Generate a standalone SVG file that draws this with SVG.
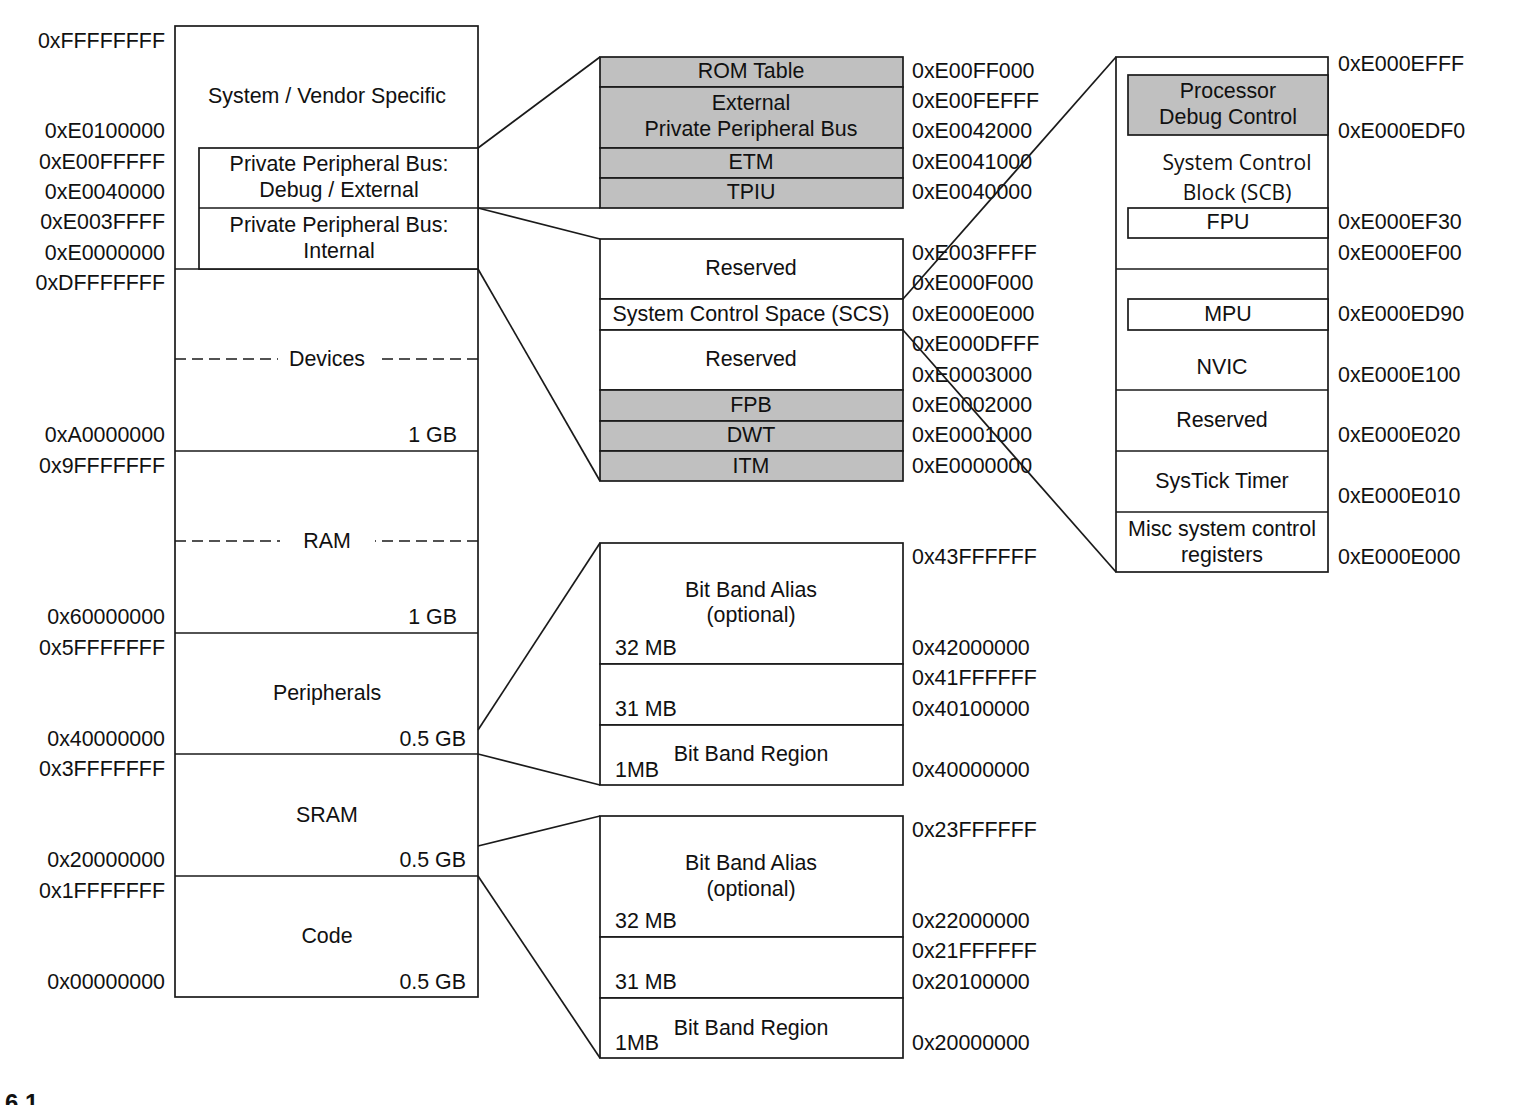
<svg xmlns="http://www.w3.org/2000/svg" width="1516" height="1105" viewBox="0 0 1516 1105">
<style>
text{font-family:"Liberation Sans",Arial,sans-serif;font-size:21.4px;fill:#111}
.c{text-anchor:middle}
.r{text-anchor:end}
.box{fill:#fff;stroke:#1a1a1a;stroke-width:1.7}
.g{fill:#c0c0c0;stroke:#1a1a1a;stroke-width:1.7}
.ln{stroke:#1a1a1a;stroke-width:1.7;fill:none}
.d{stroke:#1a1a1a;stroke-width:1.7;stroke-dasharray:11 6;fill:none}
.cal{font-family:"Open Sans","Noto Sans",sans-serif;font-size:21px}
</style>
<rect width="1516" height="1105" fill="#fff"/>

<g id="main-map">
<rect class="box" x="175" y="26" width="303" height="971"/>
<line class="ln" x1="175" y1="269" x2="478" y2="269"/>
<line class="ln" x1="175" y1="451" x2="478" y2="451"/>
<line class="ln" x1="175" y1="633" x2="478" y2="633"/>
<line class="ln" x1="175" y1="754" x2="478" y2="754"/>
<line class="ln" x1="175" y1="876" x2="478" y2="876"/>
<line class="d" x1="175" y1="359" x2="278" y2="359"/>
<line class="d" x1="478" y1="359" x2="376" y2="359"/>
<line class="d" x1="175" y1="541" x2="280" y2="541"/>
<line class="d" x1="478" y1="541" x2="375" y2="541"/>
<text class="c" x="327" y="103">System / Vendor Specific</text>
<text class="c" x="327" y="366">Devices</text>
<text class="r" x="457" y="442">1 GB</text>
<text class="c" x="327" y="548">RAM</text>
<text class="r" x="457" y="624">1 GB</text>
<text class="c" x="327" y="700">Peripherals</text>
<text class="r" x="466" y="746">0.5 GB</text>
<text class="c" x="327" y="822">SRAM</text>
<text class="r" x="466" y="867">0.5 GB</text>
<text class="c" x="327" y="943">Code</text>
<text class="r" x="466" y="989">0.5 GB</text>
</g>

<g id="ppb-boxes">
<rect class="box" x="199" y="148" width="279" height="121"/>
<line class="ln" x1="199" y1="208" x2="478" y2="208"/>
<text class="c" x="339" y="171">Private Peripheral Bus:</text>
<text class="c" x="339" y="197">Debug / External</text>
<text class="c" x="339" y="232">Private Peripheral Bus:</text>
<text class="c" x="339" y="258">Internal</text>
</g>

<g id="main-addresses">
<text class="r" x="165" y="48">0xFFFFFFFF</text>
<text class="r" x="165" y="138">0xE0100000</text>
<text class="r" x="165" y="169">0xE00FFFFF</text>
<text class="r" x="165" y="199">0xE0040000</text>
<text class="r" x="165" y="229">0xE003FFFF</text>
<text class="r" x="165" y="260">0xE0000000</text>
<text class="r" x="165" y="290">0xDFFFFFFF</text>
<text class="r" x="165" y="442">0xA0000000</text>
<text class="r" x="165" y="473">0x9FFFFFFF</text>
<text class="r" x="165" y="624">0x60000000</text>
<text class="r" x="165" y="655">0x5FFFFFFF</text>
<text class="r" x="165" y="746">0x40000000</text>
<text class="r" x="165" y="776">0x3FFFFFFF</text>
<text class="r" x="165" y="867">0x20000000</text>
<text class="r" x="165" y="898">0x1FFFFFFF</text>
<text class="r" x="165" y="989">0x00000000</text>
</g>

<g id="external-ppb">
<rect class="g" x="600" y="57" width="303" height="30"/>
<rect class="g" x="600" y="87" width="303" height="61"/>
<rect class="g" x="600" y="148" width="303" height="30"/>
<rect class="g" x="600" y="178" width="303" height="30"/>
<text class="c" x="751" y="78">ROM Table</text>
<text class="c" x="751" y="110">External</text>
<text class="c" x="751" y="136">Private Peripheral Bus</text>
<text class="c" x="751" y="169">ETM</text>
<text class="c" x="751" y="199">TPIU</text>
<text x="912" y="78">0xE00FF000</text>
<text x="912" y="108">0xE00FEFFF</text>
<text x="912" y="138">0xE0042000</text>
<text x="912" y="169">0xE0041000</text>
<text x="912" y="199">0xE0040000</text>
</g>

<g id="internal-ppb">
<rect class="box" x="600" y="239" width="303" height="60"/>
<rect class="box" x="600" y="299" width="303" height="31"/>
<rect class="box" x="600" y="330" width="303" height="60"/>
<rect class="g" x="600" y="390" width="303" height="31"/>
<rect class="g" x="600" y="421" width="303" height="30"/>
<rect class="g" x="600" y="451" width="303" height="30"/>
<text class="c" x="751" y="275">Reserved</text>
<text class="c" x="751" y="321">System Control Space (SCS)</text>
<text class="c" x="751" y="366">Reserved</text>
<text class="c" x="751" y="412">FPB</text>
<text class="c" x="751" y="442">DWT</text>
<text class="c" x="751" y="473">ITM</text>
<text x="912" y="260">0xE003FFFF</text>
<text x="912" y="290">0xE000F000</text>
<text x="912" y="321">0xE000E000</text>
<text x="912" y="351">0xE000DFFF</text>
<text x="912" y="382">0xE0003000</text>
<text x="912" y="412">0xE0002000</text>
<text x="912" y="442">0xE0001000</text>
<text x="912" y="473">0xE0000000</text>
</g>

<g id="scs-detail">
<rect class="box" x="1116" y="57" width="212" height="515"/>
<rect class="g" x="1128" y="75" width="200" height="60"/>
<rect class="box" x="1128" y="208" width="200" height="30"/>
<line class="ln" x1="1116" y1="269" x2="1328" y2="269"/>
<rect class="box" x="1128" y="299" width="200" height="31"/>
<line class="ln" x1="1116" y1="390" x2="1328" y2="390"/>
<line class="ln" x1="1116" y1="451" x2="1328" y2="451"/>
<line class="ln" x1="1116" y1="512" x2="1328" y2="512"/>
<text class="c" x="1228" y="98">Processor</text>
<text class="c" x="1228" y="124">Debug Control</text>
<text class="c cal" x="1237" y="170">System Control</text>
<text class="c cal" x="1237" y="200">Block (SCB)</text>
<text class="c" x="1228" y="229">FPU</text>
<text class="c" x="1228" y="321">MPU</text>
<text class="c" x="1222" y="374">NVIC</text>
<text class="c" x="1222" y="427">Reserved</text>
<text class="c" x="1222" y="488">SysTick Timer</text>
<text class="c" x="1222" y="536">Misc system control</text>
<text class="c" x="1222" y="562">registers</text>
<text x="1338" y="71">0xE000EFFF</text>
<text x="1338" y="138">0xE000EDF0</text>
<text x="1338" y="229">0xE000EF30</text>
<text x="1338" y="260">0xE000EF00</text>
<text x="1338" y="321">0xE000ED90</text>
<text x="1338" y="382">0xE000E100</text>
<text x="1338" y="442">0xE000E020</text>
<text x="1338" y="503">0xE000E010</text>
<text x="1338" y="564">0xE000E000</text>
</g>

<g id="bitband-peripherals">
<rect class="box" x="600" y="543" width="303" height="121"/>
<rect class="box" x="600" y="664" width="303" height="61"/>
<rect class="box" x="600" y="725" width="303" height="60"/>
<text class="c" x="751" y="597">Bit Band Alias</text>
<text class="c" x="751" y="622">(optional)</text>
<text x="615" y="655">32 MB</text>
<text x="615" y="716">31 MB</text>
<text class="c" x="751" y="761">Bit Band Region</text>
<text x="615" y="777">1MB</text>
<text x="912" y="564">0x43FFFFFF</text>
<text x="912" y="655">0x42000000</text>
<text x="912" y="685">0x41FFFFFF</text>
<text x="912" y="716">0x40100000</text>
<text x="912" y="777">0x40000000</text>
</g>

<g id="bitband-sram">
<rect class="box" x="600" y="816" width="303" height="121"/>
<rect class="box" x="600" y="937" width="303" height="61"/>
<rect class="box" x="600" y="998" width="303" height="60"/>
<text class="c" x="751" y="870">Bit Band Alias</text>
<text class="c" x="751" y="896">(optional)</text>
<text x="615" y="928">32 MB</text>
<text x="615" y="989">31 MB</text>
<text class="c" x="751" y="1035">Bit Band Region</text>
<text x="615" y="1050">1MB</text>
<text x="912" y="837">0x23FFFFFF</text>
<text x="912" y="928">0x22000000</text>
<text x="912" y="958">0x21FFFFFF</text>
<text x="912" y="989">0x20100000</text>
<text x="912" y="1050">0x20000000</text>
</g>

<g id="connectors">
<line class="ln" x1="478" y1="148" x2="600" y2="57"/>
<line class="ln" x1="478" y1="208" x2="600" y2="208"/>
<line class="ln" x1="478" y1="208" x2="600" y2="239"/>
<line class="ln" x1="478" y1="269" x2="600" y2="481"/>
<line class="ln" x1="903" y1="299" x2="1116" y2="57"/>
<line class="ln" x1="903" y1="330" x2="1116" y2="572"/>
<line class="ln" x1="478" y1="730" x2="600" y2="543"/>
<line class="ln" x1="478" y1="754" x2="600" y2="785"/>
<line class="ln" x1="478" y1="846" x2="600" y2="816"/>
<line class="ln" x1="478" y1="876" x2="600" y2="1058"/>
</g>

<text x="5" y="1111" style="font-weight:bold;font-size:24px">6.1</text>
</svg>
